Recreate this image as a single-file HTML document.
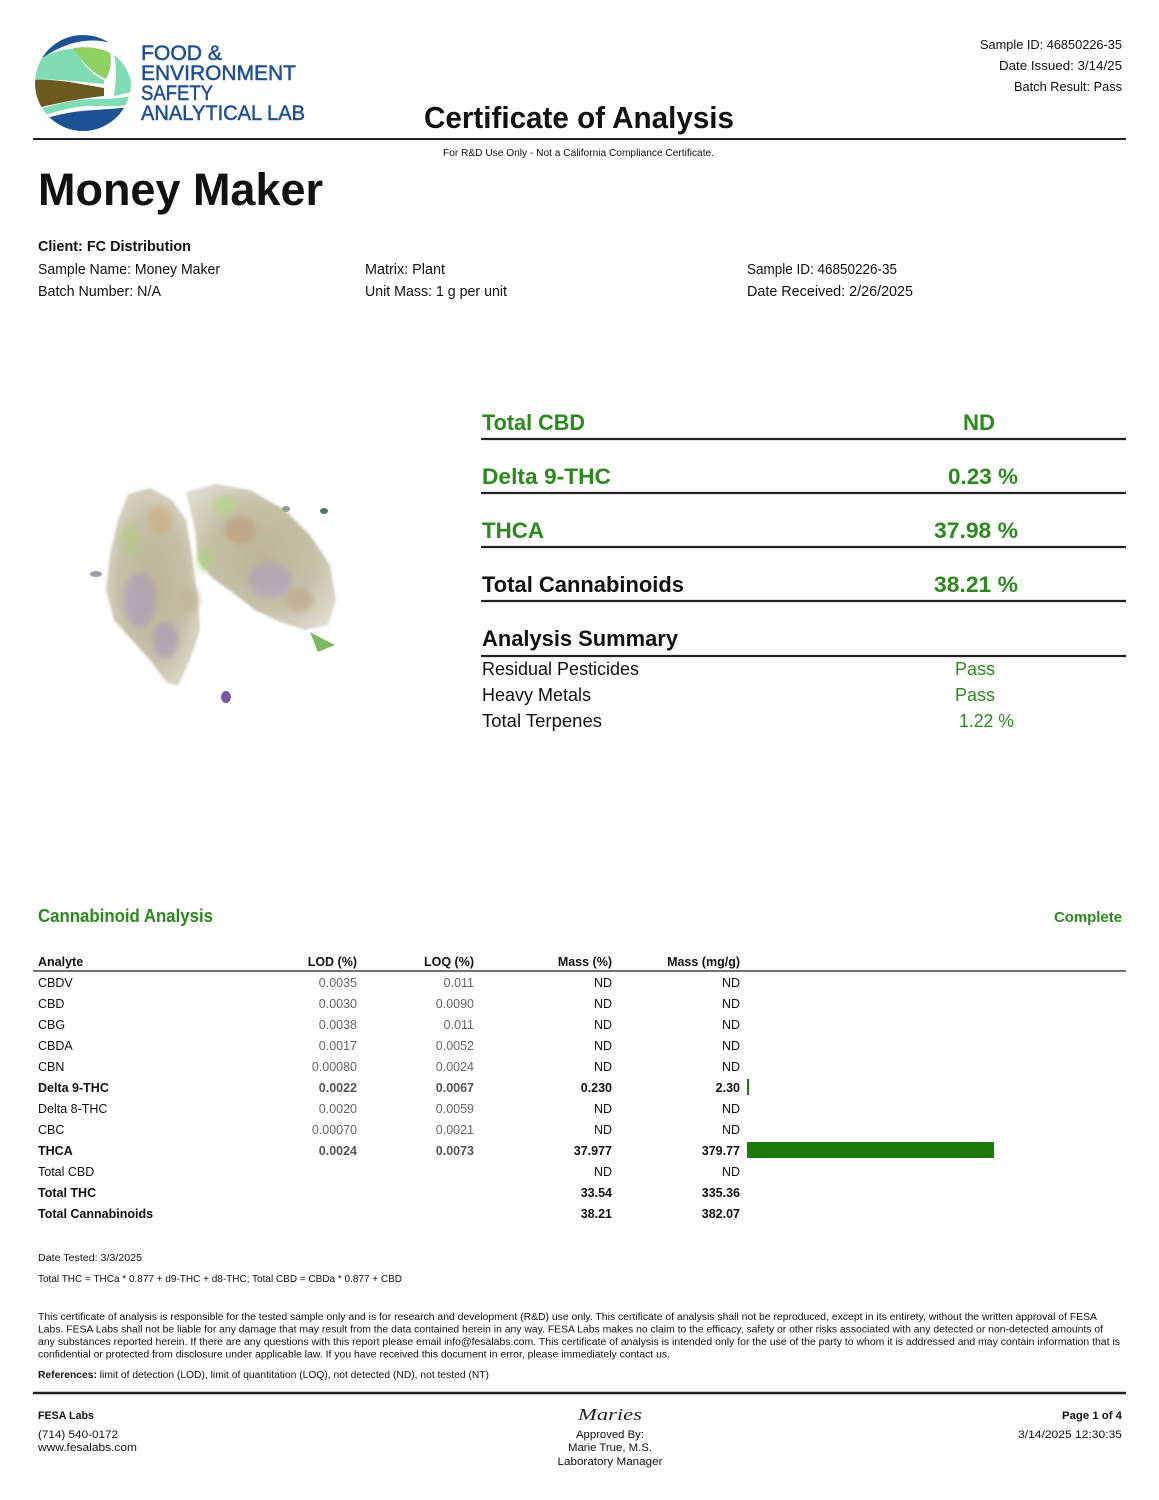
<!DOCTYPE html>
<html>
<head>
<meta charset="utf-8">
<style>
html,body{margin:0;padding:0;background:#fff;}
svg{display:block;}
text{font-family:"Liberation Sans",Arial,sans-serif;}
</style>
</head>
<body>
<svg width="1159" height="1500" viewBox="0 0 1159 1500" xmlns="http://www.w3.org/2000/svg">
<defs>
  <clipPath id="lc"><circle cx="83" cy="83" r="48"/></clipPath>
  <radialGradient id="bud1" cx="0.5" cy="0.5" r="0.6">
    <stop offset="0" stop-color="#bcb494"/>
    <stop offset="0.6" stop-color="#c6c0a8"/>
    <stop offset="1" stop-color="#dedacc"/>
  </radialGradient>
  <filter id="blur1"><feGaussianBlur stdDeviation="3"/></filter>
  <filter id="blur2"><feGaussianBlur stdDeviation="1.2"/></filter>
</defs>

<!-- Logo -->
<g clip-path="url(#lc)">
  <rect x="30" y="30" width="110" height="110" fill="#fff"/>
  <path d="M30 30 L140 30 L140 58 C120 42 95 36 70 44 C55 49 44 56 36 64 L30 64 Z" fill="#1d5394"/>
  <path d="M30 66 C45 54 62 48 76 49 C80 60 88 72 104 80 L104 84 C80 82 55 78 30 80 Z" fill="#7fdcb4"/>
  <path d="M73 48 C88 46 102 48 110 53 C112 63 110 72 106 79 C92 73 82 62 73 48 Z" fill="#8fd160"/>
  <path d="M114 55 C124 62 132 75 132 92 L114 96 C116 82 117 68 114 55 Z" fill="#7fdcb4"/>
  <path d="M30 80 C55 78 80 84 104 88 L104 96 C85 98 60 102 30 110 Z" fill="#6a5a1e"/>
  <path d="M30 112 C55 104 75 99 95 99 C110 99 122 98 140 95 L140 104 C120 107 105 106 88 106 C70 107 50 113 30 120 Z" fill="#7fdcb4"/>
  <path d="M30 124 C55 114 75 111 95 110 C110 109 125 108 140 106 L140 140 L30 140 Z" fill="#1d5394"/>
</g>
<g font-size="21.5" fill="#1e4f91" stroke="#1e4f91" stroke-width="0.5">
<text x="141" y="60" textLength="81" lengthAdjust="spacingAndGlyphs">FOOD &amp;</text>
<text x="141" y="80" textLength="155" lengthAdjust="spacingAndGlyphs">ENVIRONMENT</text>
<text x="141" y="100" textLength="72" lengthAdjust="spacingAndGlyphs">SAFETY</text>
<text x="141" y="120" textLength="164" lengthAdjust="spacingAndGlyphs">ANALYTICAL LAB</text>
</g>

<!-- Header right -->
<text x="1122" y="49" font-size="13" fill="#111" text-anchor="end" textLength="142" lengthAdjust="spacingAndGlyphs">Sample ID: 46850226-35</text>
<text x="1122" y="70" font-size="13" fill="#111" text-anchor="end" textLength="123" lengthAdjust="spacingAndGlyphs">Date Issued: 3/14/25</text>
<text x="1122" y="91" font-size="13" fill="#111" text-anchor="end" textLength="108" lengthAdjust="spacingAndGlyphs">Batch Result: Pass</text>

<text x="424" y="128" font-size="31" font-weight="bold" fill="#111" textLength="310" lengthAdjust="spacingAndGlyphs">Certificate of Analysis</text>
<line x1="33" y1="139" x2="1126" y2="139" stroke="#222" stroke-width="2"/>
<text x="443" y="156" font-size="10" fill="#111" textLength="271" lengthAdjust="spacingAndGlyphs">For R&amp;D Use Only - Not a California Compliance Certificate.</text>

<text x="38" y="205" font-size="45" font-weight="bold" fill="#111" textLength="285" lengthAdjust="spacingAndGlyphs">Money Maker</text>

<text x="38" y="251" font-size="15" font-weight="bold" fill="#111" textLength="153" lengthAdjust="spacingAndGlyphs">Client: FC Distribution</text>
<text x="38" y="274" font-size="14.5" fill="#111" textLength="182" lengthAdjust="spacingAndGlyphs">Sample Name: Money Maker</text>
<text x="38" y="296" font-size="14.5" fill="#111" textLength="123" lengthAdjust="spacingAndGlyphs">Batch Number: N/A</text>
<text x="365" y="274" font-size="14.5" fill="#111" textLength="80" lengthAdjust="spacingAndGlyphs">Matrix: Plant</text>
<text x="365" y="296" font-size="14.5" fill="#111" textLength="142" lengthAdjust="spacingAndGlyphs">Unit Mass: 1 g per unit</text>
<text x="747" y="274" font-size="14.5" fill="#111" textLength="150" lengthAdjust="spacingAndGlyphs">Sample ID: 46850226-35</text>
<text x="747" y="296" font-size="14.5" fill="#111" textLength="166" lengthAdjust="spacingAndGlyphs">Date Received: 2/26/2025</text>

<!-- Cannabis image approximation -->
<g>
  <path d="M128 494 L150 488 L172 500 L186 520 L192 555 L198 600 L200 630 L190 660 L178 686 L166 682 L150 660 L132 640 L114 620 L106 590 L110 555 L118 520 Z" fill="url(#bud1)" filter="url(#blur2)"/>
  <path d="M186 492 L215 484 L250 490 L285 510 L310 535 L330 565 L336 600 L328 625 L305 630 L280 622 L255 610 L232 592 L212 578 L198 560 L195 530 Z" fill="url(#bud1)" filter="url(#blur2)"/>
  <g filter="url(#blur1)" opacity="0.6">
    <ellipse cx="140" cy="600" rx="16" ry="28" fill="#a79bc0"/>
    <ellipse cx="165" cy="640" rx="13" ry="18" fill="#a596bb"/>
    <ellipse cx="130" cy="540" rx="10" ry="16" fill="#b2cc86"/>
    <ellipse cx="160" cy="520" rx="12" ry="14" fill="#cfae7c"/>
    <ellipse cx="240" cy="530" rx="16" ry="14" fill="#bf9a78"/>
    <ellipse cx="270" cy="580" rx="22" ry="18" fill="#aca0c2"/>
    <ellipse cx="225" cy="505" rx="12" ry="10" fill="#b4d682"/>
    <ellipse cx="300" cy="600" rx="14" ry="12" fill="#bda588"/>
    <ellipse cx="205" cy="560" rx="8" ry="12" fill="#a8d476"/>
    <ellipse cx="190" cy="600" rx="10" ry="14" fill="#bfb296"/>
  </g>
  <path d="M310 632 L325 640 L335 645 L318 652 Z" fill="#7fb860"/>
  <ellipse cx="226" cy="697" rx="5" ry="6" fill="#7e56a8"/>
  <ellipse cx="96" cy="574" rx="6" ry="3" fill="#9aa0a8"/>
  <ellipse cx="286" cy="509" rx="4" ry="3" fill="#8aa090"/>
  <ellipse cx="324" cy="511" rx="4" ry="3" fill="#4a7a60"/>
</g>

<!-- Right summary panel -->
<text x="482" y="430" font-size="22" font-weight="bold" fill="#2b891d" textLength="103" lengthAdjust="spacingAndGlyphs">Total CBD</text>
<text x="979" y="430" font-size="22" font-weight="bold" fill="#2b891d" text-anchor="middle" textLength="32" lengthAdjust="spacingAndGlyphs">ND</text>
<line x1="481" y1="439" x2="1126" y2="439" stroke="#222" stroke-width="2.2"/>

<text x="482" y="484" font-size="22" font-weight="bold" fill="#2b891d" textLength="129" lengthAdjust="spacingAndGlyphs">Delta 9-THC</text>
<text x="1018" y="484" font-size="22" font-weight="bold" fill="#2b891d" text-anchor="end" textLength="70" lengthAdjust="spacingAndGlyphs">0.23 %</text>
<line x1="481" y1="493" x2="1126" y2="493" stroke="#222" stroke-width="2.2"/>

<text x="482" y="538" font-size="22" font-weight="bold" fill="#2b891d" textLength="62" lengthAdjust="spacingAndGlyphs">THCA</text>
<text x="1018" y="538" font-size="22" font-weight="bold" fill="#2b891d" text-anchor="end" textLength="84" lengthAdjust="spacingAndGlyphs">37.98 %</text>
<line x1="481" y1="547" x2="1126" y2="547" stroke="#222" stroke-width="2.2"/>

<text x="482" y="592" font-size="22" font-weight="bold" fill="#111" textLength="202" lengthAdjust="spacingAndGlyphs">Total Cannabinoids</text>
<text x="1018" y="592" font-size="22" font-weight="bold" fill="#2b891d" text-anchor="end" textLength="84" lengthAdjust="spacingAndGlyphs">38.21 %</text>
<line x1="481" y1="601" x2="1126" y2="601" stroke="#222" stroke-width="2.2"/>

<text x="482" y="646" font-size="22" font-weight="bold" fill="#111" textLength="196" lengthAdjust="spacingAndGlyphs">Analysis Summary</text>
<line x1="481" y1="656" x2="1126" y2="656" stroke="#222" stroke-width="2.2"/>

<text x="482" y="675" font-size="18" fill="#111" textLength="157" lengthAdjust="spacingAndGlyphs">Residual Pesticides</text>
<text x="955" y="675" font-size="18" fill="#2b891d" textLength="40" lengthAdjust="spacingAndGlyphs">Pass</text>
<text x="482" y="701" font-size="18" fill="#111" textLength="109" lengthAdjust="spacingAndGlyphs">Heavy Metals</text>
<text x="955" y="701" font-size="18" fill="#2b891d" textLength="40" lengthAdjust="spacingAndGlyphs">Pass</text>
<text x="482" y="727" font-size="18" fill="#111" textLength="120" lengthAdjust="spacingAndGlyphs">Total Terpenes</text>
<text x="1014" y="727" font-size="18" fill="#2b891d" text-anchor="end" textLength="55" lengthAdjust="spacingAndGlyphs">1.22 %</text>

<!-- Cannabinoid Analysis -->
<text x="38" y="922" font-size="18" font-weight="bold" fill="#2b891d" textLength="175" lengthAdjust="spacingAndGlyphs">Cannabinoid Analysis</text>
<text x="1122" y="922" font-size="15" font-weight="bold" fill="#2b891d" text-anchor="end" textLength="68" lengthAdjust="spacingAndGlyphs">Complete</text>

<g font-size="12.5">
  <text x="38" y="966" font-weight="bold" fill="#111">Analyte</text>
  <text x="357" y="966" font-weight="bold" fill="#111" text-anchor="end">LOD (%)</text>
  <text x="474" y="966" font-weight="bold" fill="#111" text-anchor="end">LOQ (%)</text>
  <text x="612" y="966" font-weight="bold" fill="#111" text-anchor="end">Mass (%)</text>
  <text x="740" y="966" font-weight="bold" fill="#111" text-anchor="end">Mass (mg/g)</text>
</g>
<line x1="33" y1="971" x2="1126" y2="971" stroke="#444" stroke-width="1.6"/>

<g font-size="12.5" fill="#111">
  <text x="38" y="987">CBDV</text>
  <text x="357" y="987" text-anchor="end" fill="#666">0.0035</text>
  <text x="474" y="987" text-anchor="end" fill="#666">0.011</text>
  <text x="612" y="987" text-anchor="end">ND</text>
  <text x="740" y="987" text-anchor="end">ND</text>

  <text x="38" y="1008">CBD</text>
  <text x="357" y="1008" text-anchor="end" fill="#666">0.0030</text>
  <text x="474" y="1008" text-anchor="end" fill="#666">0.0090</text>
  <text x="612" y="1008" text-anchor="end">ND</text>
  <text x="740" y="1008" text-anchor="end">ND</text>

  <text x="38" y="1029">CBG</text>
  <text x="357" y="1029" text-anchor="end" fill="#666">0.0038</text>
  <text x="474" y="1029" text-anchor="end" fill="#666">0.011</text>
  <text x="612" y="1029" text-anchor="end">ND</text>
  <text x="740" y="1029" text-anchor="end">ND</text>

  <text x="38" y="1050">CBDA</text>
  <text x="357" y="1050" text-anchor="end" fill="#666">0.0017</text>
  <text x="474" y="1050" text-anchor="end" fill="#666">0.0052</text>
  <text x="612" y="1050" text-anchor="end">ND</text>
  <text x="740" y="1050" text-anchor="end">ND</text>

  <text x="38" y="1071">CBN</text>
  <text x="357" y="1071" text-anchor="end" fill="#666">0.00080</text>
  <text x="474" y="1071" text-anchor="end" fill="#666">0.0024</text>
  <text x="612" y="1071" text-anchor="end">ND</text>
  <text x="740" y="1071" text-anchor="end">ND</text>

  <text x="38" y="1092" font-weight="bold">Delta 9-THC</text>
  <text x="357" y="1092" text-anchor="end" fill="#555" font-weight="bold">0.0022</text>
  <text x="474" y="1092" text-anchor="end" fill="#555" font-weight="bold">0.0067</text>
  <text x="612" y="1092" text-anchor="end" font-weight="bold">0.230</text>
  <text x="740" y="1092" text-anchor="end" font-weight="bold">2.30</text>

  <text x="38" y="1113">Delta 8-THC</text>
  <text x="357" y="1113" text-anchor="end" fill="#666">0.0020</text>
  <text x="474" y="1113" text-anchor="end" fill="#666">0.0059</text>
  <text x="612" y="1113" text-anchor="end">ND</text>
  <text x="740" y="1113" text-anchor="end">ND</text>

  <text x="38" y="1134">CBC</text>
  <text x="357" y="1134" text-anchor="end" fill="#666">0.00070</text>
  <text x="474" y="1134" text-anchor="end" fill="#666">0.0021</text>
  <text x="612" y="1134" text-anchor="end">ND</text>
  <text x="740" y="1134" text-anchor="end">ND</text>

  <text x="38" y="1155" font-weight="bold">THCA</text>
  <text x="357" y="1155" text-anchor="end" fill="#555" font-weight="bold">0.0024</text>
  <text x="474" y="1155" text-anchor="end" fill="#555" font-weight="bold">0.0073</text>
  <text x="612" y="1155" text-anchor="end" font-weight="bold">37.977</text>
  <text x="740" y="1155" text-anchor="end" font-weight="bold">379.77</text>

  <text x="38" y="1176">Total CBD</text>
  <text x="612" y="1176" text-anchor="end">ND</text>
  <text x="740" y="1176" text-anchor="end">ND</text>

  <text x="38" y="1197" font-weight="bold">Total THC</text>
  <text x="612" y="1197" text-anchor="end" font-weight="bold">33.54</text>
  <text x="740" y="1197" text-anchor="end" font-weight="bold">335.36</text>

  <text x="38" y="1218" font-weight="bold">Total Cannabinoids</text>
  <text x="612" y="1218" text-anchor="end" font-weight="bold">38.21</text>
  <text x="740" y="1218" text-anchor="end" font-weight="bold">382.07</text>
</g>
<rect x="747" y="1079" width="2" height="16" fill="#1f7a10"/>
<rect x="747" y="1142" width="247" height="16" fill="#1a7a0a"/>

<!-- Notes -->
<text x="38" y="1261" font-size="10" fill="#111" textLength="104" lengthAdjust="spacingAndGlyphs">Date Tested: 3/3/2025</text>
<text x="38" y="1282" font-size="10" fill="#111" textLength="364" lengthAdjust="spacingAndGlyphs">Total THC = THCa * 0.877 + d9-THC + d8-THC; Total CBD = CBDa * 0.877 + CBD</text>

<g font-size="10" fill="#111">
<text x="38" y="1320" textLength="1059" lengthAdjust="spacingAndGlyphs">This certificate of analysis is responsible for the tested sample only and is for research and development (R&amp;D) use only. This certificate of analysis shall not be reproduced, except in its entirety, without the written approval of FESA</text>
<text x="38" y="1332.5" textLength="1065" lengthAdjust="spacingAndGlyphs">Labs. FESA Labs shall not be liable for any damage that may result from the data contained herein in any way. FESA Labs makes no claim to the efficacy, safety or other risks associated with any detected or non-detected amounts of</text>
<text x="38" y="1345" textLength="1082" lengthAdjust="spacingAndGlyphs">any substances reported herein. If there are any questions with this report please email info@fesalabs.com. This certificate of analysis is intended only for the use of the party to whom it is addressed and may contain information that is</text>
<text x="38" y="1357.5" textLength="632" lengthAdjust="spacingAndGlyphs">confidential or protected from disclosure under applicable law. If you have received this document in error, please immediately contact us.</text>
<text x="38" y="1378" textLength="451" lengthAdjust="spacingAndGlyphs"><tspan font-weight="bold">References:</tspan> limit of detection (LOD), limit of quantitation (LOQ), not detected (ND), not tested (NT)</text>
</g>

<line x1="33" y1="1393" x2="1126" y2="1393" stroke="#222" stroke-width="2.4"/>

<!-- Footer -->
<text x="38" y="1419" font-size="11" font-weight="bold" fill="#111" textLength="56" lengthAdjust="spacingAndGlyphs">FESA Labs</text>
<text x="38" y="1438" font-size="11" fill="#111" textLength="80" lengthAdjust="spacingAndGlyphs">(714) 540-0172</text>
<text x="38" y="1451" font-size="11" fill="#111" textLength="99" lengthAdjust="spacingAndGlyphs">www.fesalabs.com</text>

<text x="610" y="1420" font-size="17" font-style="italic" fill="#222" text-anchor="middle" style="font-family:'Liberation Serif',serif" textLength="64" lengthAdjust="spacingAndGlyphs">Maries</text>
<text x="610" y="1438" font-size="11" fill="#111" text-anchor="middle" textLength="68" lengthAdjust="spacingAndGlyphs">Approved By:</text>
<text x="610" y="1451" font-size="11" fill="#111" text-anchor="middle" textLength="84" lengthAdjust="spacingAndGlyphs">Marie True, M.S.</text>
<text x="610" y="1465" font-size="11" fill="#111" text-anchor="middle" textLength="105" lengthAdjust="spacingAndGlyphs">Laboratory Manager</text>

<text x="1122" y="1419" font-size="11" font-weight="bold" fill="#111" text-anchor="end" textLength="60" lengthAdjust="spacingAndGlyphs">Page 1 of 4</text>
<text x="1122" y="1438" font-size="11" fill="#111" text-anchor="end" textLength="104" lengthAdjust="spacingAndGlyphs">3/14/2025 12:30:35</text>
</svg>
</body>
</html>
